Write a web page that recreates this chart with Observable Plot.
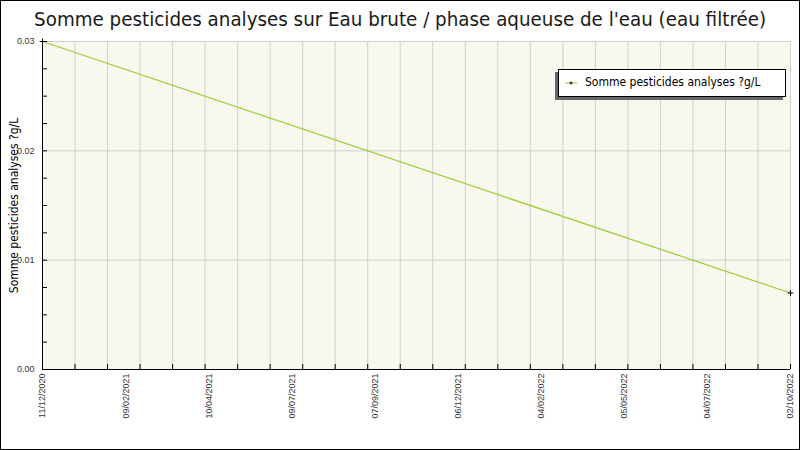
<!DOCTYPE html>
<html>
<head>
<meta charset="utf-8">
<script src="https://cdn.jsdelivr.net/npm/d3@7"></script>
<script src="https://cdn.jsdelivr.net/npm/@observablehq/plot@0.6"></script>
<style>
  body { margin: 0; background: #fff; }
  #chart { position: relative; width: 800px; height: 450px; overflow: hidden; background: #fff; }
  #frame { position: absolute; left: 0; top: 0; width: 800px; height: 450px; box-sizing: border-box; border: 1px solid #000; pointer-events: none; }
  #title { height: 33px; line-height: 38px; text-align: center; white-space: nowrap; font-family: "DejaVu Sans Condensed", "DejaVu Sans", sans-serif; font-stretch: condensed; font-size: 20px; color: #1a1a1a; overflow: visible; }
  #title span { display: inline-block; transform-origin: 50% 50%; }
  #legend { position: absolute; left: 558px; top: 69px; width: 228px; height: 28px; box-sizing: border-box; border: 1px solid #000; background: #fff; box-shadow: -3px 3px 0 #666; font-family: "DejaVu Sans Condensed", "DejaVu Sans", sans-serif; font-stretch: condensed; font-size: 12px; color: #000; white-space: nowrap; }
  #legend svg { position: absolute; left: 5px; top: 8px; }
  #legend .lab { position: absolute; left: 26px; top: 5px; }
</style>
</head>
<body>
<div id="chart">
  <div id="title"><span id="titleText">Somme pesticides analyses sur Eau brute / phase aqueuse de l'eau (eau filtrée)</span></div>
  <div id="plot"></div>
  <div id="legend">
    <svg width="14" height="10"><line x1="1" y1="5" x2="13" y2="5" stroke="#9acd32" stroke-width="1"/><path d="M5.5,5h3M7,3.5v3" stroke="#000" stroke-width="1"/></svg>
    <span class="lab">Somme pesticides analyses ?g/L</span>
  </div>
  <div id="frame"></div>
</div>
<script>
// ---- data ----
const title = "Somme pesticides analyses sur Eau brute / phase aqueuse de l'eau (eau filtrée)";
const yLabel = "Somme pesticides analyses ?g/L";
const xTickLabels = ["11/12/2020","09/02/2021","10/04/2021","09/07/2021","07/09/2021","06/12/2021","04/02/2022","05/05/2022","04/07/2022","02/10/2022"];
const seriesDates = ["11/12/2020", "02/10/2022"];
const seriesValues = [0.03, 0.007];
const yTicks = [0, 0.01, 0.02, 0.03];
const yMinorStep = 0.0025;
const xGridCount = 24;

// ---- build ----
const data = seriesDates.map((d, i) => ({ pos: xTickLabels.indexOf(d), value: seriesValues[i] }));
const lastPos = xTickLabels.length - 1;
const xGrid = d3.range(xGridCount).map(k => k * lastPos / (xGridCount - 1));
const yMinor = d3.range(0, 0.03 + 1e-9, yMinorStep);
const labelData = xTickLabels.map((t, i) => ({ pos: i, t }));

const font = '"DejaVu Sans Condensed", "DejaVu Sans", sans-serif';

const chart = Plot.plot({
  width: 800,
  height: 417,
  marginTop: 8,
  marginBottom: 81,
  marginLeft: 42,
  marginRight: 10,
  style: { background: "transparent", fontFamily: '"Liberation Sans", Arial, sans-serif', overflow: "visible" },
  x: { type: "linear", domain: [0, lastPos], axis: null },
  y: { domain: [0, 0.03], axis: null },
  marks: [
    Plot.frame({ fill: "#f8f8ef", stroke: null }),
    Plot.ruleX(xGrid, { stroke: "#cfcfcf", strokeWidth: 1 }),
    Plot.ruleY(yTicks.filter(v => v > 0), { stroke: "#cfcfcf", strokeWidth: 1 }),
    Plot.ruleX([0], { stroke: "#000", strokeWidth: 1 }),
    Plot.ruleY([0], { stroke: "#000", strokeWidth: 1 }),
    Plot.axisY({ ticks: yMinor, tickSize: -5, text: null, label: null, stroke: "#000", strokeOpacity: 1 }),
    Plot.axisY({ ticks: yTicks, tickSize: 0, tickPadding: 8, tickFormat: d3.format(".2f"), label: null, fontSize: 9, fill: "#333" }),
    Plot.axisX({ ticks: xGrid, tickSize: -5, text: null, label: null, stroke: "#000", strokeOpacity: 1 }),
    Plot.text(labelData, { x: "pos", y: 0, text: "t", rotate: -90, textAnchor: "end", lineAnchor: "middle", dy: 4, fontSize: 9, fill: "#333" }),
    Plot.text([yLabel], { frameAnchor: "left", textAnchor: "middle", lineAnchor: "middle", dx: -28, rotate: -90, fontSize: 12, fill: "#000", fontFamily: font, text: d => d }),
    Plot.line(data, { x: "pos", y: "value", stroke: "#9acd32", strokeWidth: 1.2 }),
    Plot.dot(data, { x: "pos", y: "value", symbol: "plus", r: 2, stroke: "#000", strokeWidth: 1 })
  ]
});
document.getElementById("plot").appendChild(chart);

// fit title width to reference
const ts = document.getElementById("titleText");
const w = ts.getBoundingClientRect().width;
ts.style.transform = `scaleX(${732 / w})`;
</script>
</body>
</html>
